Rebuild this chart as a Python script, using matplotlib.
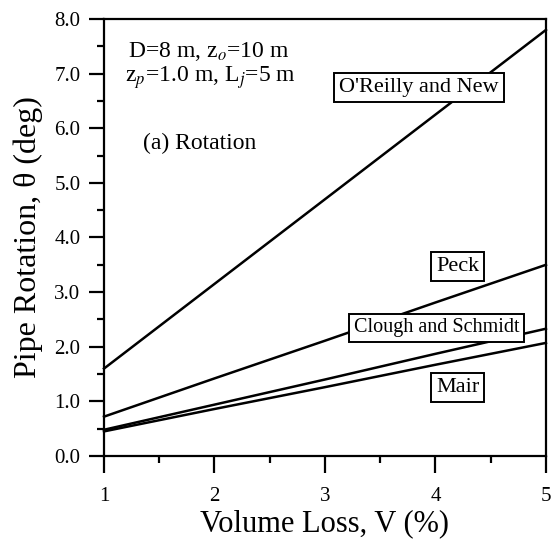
import matplotlib
matplotlib.use("Agg")
import matplotlib.pyplot as plt
from matplotlib.ticker import MultipleLocator, FormatStrFormatter

plt.rcParams["font.family"] = ["Liberation Serif", "DejaVu Serif"]
plt.rcParams["mathtext.fontset"] = "stix"

# данные
volume_loss = [1, 2, 3, 4, 5]
oreilly_new = [1.60, 3.15, 4.70, 6.25, 7.80]
peck = [0.72, 1.42, 2.11, 2.81, 3.50]
clough_schmidt = [0.48, 0.94, 1.40, 1.87, 2.33]
mair = [0.45, 0.86, 1.26, 1.67, 2.07]

fig = plt.figure(figsize=(5.52, 5.40), dpi=100)
ax = fig.add_axes([0.1884, 0.1556, 0.8006, 0.8092])

for ys in (oreilly_new, peck, clough_schmidt, mair):
    ax.plot(volume_loss, ys, color="black", linewidth=1.8, clip_on=False)

ax.set_xlim(1, 5)
ax.set_ylim(0, 8)
ax.xaxis.set_major_locator(MultipleLocator(1))
ax.xaxis.set_minor_locator(MultipleLocator(0.5))
ax.yaxis.set_major_locator(MultipleLocator(1))
ax.yaxis.set_minor_locator(MultipleLocator(0.5))
ax.yaxis.set_major_formatter(FormatStrFormatter("%.1f"))

ax.tick_params(which="major", direction="out", length=11, width=1.6,
               labelsize=15, pad=6)
ax.tick_params(which="minor", direction="out", length=5, width=1.6)
ax.tick_params(axis="x", which="major", length=12, pad=10)
for s in ax.spines.values():
    s.set_linewidth(1.6)

ax.set_xlabel("Volume Loss, V (%)", fontsize=22, labelpad=3)
ax.set_ylabel("Pipe Rotation, θ (deg)", fontsize=23, labelpad=8)

ax.text(1.217, 7.40, r"D=8 m, z$_o$=10 m", fontsize=17, va="center")
ax.text(1.19, 6.92, r"z$_p$=1.0 m, L$_j$=5 m", fontsize=17, va="center")
ax.text(1.35, 5.73, "(a) Rotation", fontsize=17, va="center")

box = dict(boxstyle="square,pad=0.22", facecolor="white", edgecolor="black",
           linewidth=1.4)
ax.text(3.85, 6.74, "O'Reilly and New", fontsize=16, ha="center",
        va="center", bbox=box)
ax.text(4.20, 3.47, "Peck", fontsize=16, ha="center", va="center", bbox=box)
ax.text(4.01, 2.35, "Clough and Schmidt", fontsize=14.5, ha="center",
        va="center", bbox=box)
ax.text(4.20, 1.26, "Mair", fontsize=16, ha="center", va="center", bbox=box)

fig.savefig("out.png", dpi=100)
